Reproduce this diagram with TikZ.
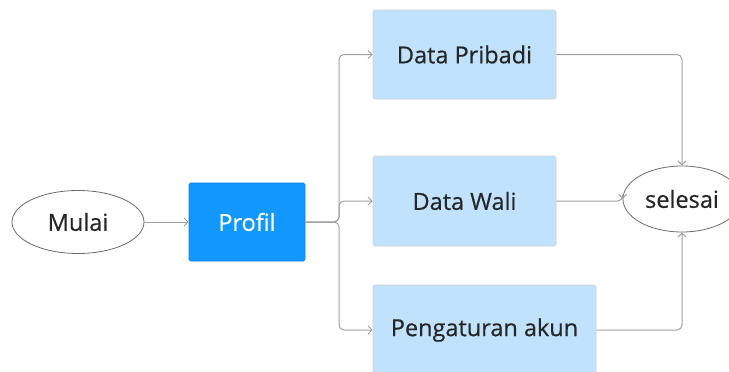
\documentclass[tikz,border=0pt]{standalone}
\usepackage{fontspec}
\setmainfont{Open Sans}
\newfontfamily\lblfont{Open Sans}[FakeBold=0.45]
\usetikzlibrary{shapes.geometric,arrows.meta}
\definecolor{linegray}{HTML}{A0A0A0}
\definecolor{txt}{HTML}{262626}
\definecolor{accent}{HTML}{1297FD}
\definecolor{pale}{HTML}{C0E2FC}
\tikzset{
  lbl/.style={font=\lblfont\fontsize{23.5}{28}\selectfont, text=txt},
  terminal/.style={ellipse, draw=gray!85!black, line width=0.8pt, fill=white, inner sep=0pt, lbl},
  procbox/.style={rectangle, rounded corners=1.5pt, draw=black!18, line width=0.6pt, fill=pale, inner sep=0pt, lbl},
  mainbox/.style={procbox, fill=accent, draw=accent!85!black, text=white},
  flow/.style={draw=linegray, line width=1pt, rounded corners=5pt, -{Straight Barb[length=4pt,width=8pt]}}
}
\begin{document}
\begin{tikzpicture}[x=1pt,y=-1pt]
  \useasboundingbox (0,0) rectangle (729,372);
  \node[terminal, minimum width=132pt, minimum height=63pt] (mulai) at (78,222) {Mulai};
  \node[mainbox, minimum width=116pt, minimum height=78pt] (profil) at (247,222) {Profil};
  \node[procbox, minimum width=183pt, minimum height=89pt] (pribadi) at (464.5,54.5) {Data Pribadi};
  \node[procbox, minimum width=183pt, minimum height=90pt] (wali) at (464.5,201) {Data Wali};
  \node[procbox, minimum width=223pt, minimum height=90pt] (akun) at (484.5,330) {Pengaturan akun};
  \node[terminal, minimum width=118pt, minimum height=66pt] (selesai) at (682,199) {selesai};
  \coordinate (trunk) at (339,222);
  \coordinate (merge) at (682,0);

  \draw[flow] (mulai) -- (profil);
  \draw[flow] (profil.east) -- (trunk) -- (trunk |- pribadi.west) -- (pribadi.west);
  \draw[flow] (profil.east) -- (trunk) -- (trunk |- wali.west) -- (wali.west);
  \draw[flow] (profil.east) -- (trunk) -- (trunk |- akun.west) -- (akun.west);
  \draw[flow] (pribadi.east) -- (merge |- pribadi.east) -- (selesai.north);
  \draw[flow] (wali.east) -- (wali.east -| selesai.west) -- (selesai.west);
  \draw[flow] (akun.east) -- (merge |- akun.east) -- (selesai.south);
\end{tikzpicture}
\end{document}
